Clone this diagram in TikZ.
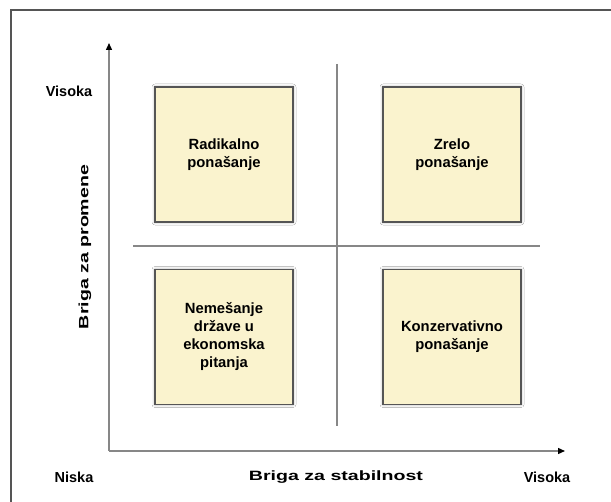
\documentclass[tikz,border=0pt]{standalone}
\usepackage{fontspec}
\setmainfont{Liberation Sans}
\newfontfamily\axisfont[FakeStretch=1.45]{Liberation Sans}
\usetikzlibrary{arrows.meta,shadows.blur}
\definecolor{boxfill}{RGB}{250,243,206}
\definecolor{boxedge}{RGB}{85,85,85}
\definecolor{guide}{RGB}{135,135,135}
\tikzset{
  frameline/.style={draw=boxedge, line width=2pt},
  axis/.style={draw=guide, line width=1.4pt, -{Triangle[length=7pt,width=6pt,fill=black,color=black]}},
  divider/.style={draw=guide, line width=1.4pt},
  quad/.style={draw=boxedge, fill=boxfill, line width=1.8pt, minimum width=138pt, minimum height=135pt,
    inner sep=0pt, align=center, font=\bfseries\fontsize{14.8}{18}\selectfont,
    blur shadow={shadow xshift=0pt, shadow yshift=0pt, shadow blur radius=3pt, shadow opacity=35}},
  level/.style={font=\bfseries\fontsize{14.5}{17}\selectfont, inner sep=0pt},
  axistitle/.style={font=\axisfont\bfseries\fontsize{13.5}{16}\selectfont, inner sep=0pt}
}
\begin{document}
\begin{tikzpicture}[x=1pt, y=-1pt]
  \useasboundingbox (0,0) rectangle (611,502);
  \fill[white] (0,0) rectangle (611,502);
  % outer frame: top and left edges only
  \coordinate (fbl) at (11,502);
  \coordinate (ftl) at (11,10);
  \coordinate (ftr) at (611,10);
  \draw[frameline] (fbl) -- (ftl) -- (ftr);

  % axes
  \coordinate (origin) at (109,451);
  \coordinate (ytip) at (109,43);
  \coordinate (xtip) at (565,451);
  \draw[axis] (origin) -- (ytip);
  \draw[axis] (origin) -- (xtip);

  % quadrant dividers
  \coordinate (vtop) at (337,64);
  \coordinate (vbot) at (337,426);
  \coordinate (hleft) at (133,246);
  \coordinate (hright) at (540,246);
  \draw[divider] (vtop) -- (vbot);
  \draw[divider] (hleft) -- (hright);

  % quadrant boxes
  \node[quad] (radical) at (224,154.5) {Radikalno\\ponašanje};
  \node[quad] (mature) at (452,154.5) {Zrelo\\ponašanje};
  \node[quad] (laissez) at (224,337) {Nemešanje\\države u\\ekonomska\\pitanja};
  \node[quad] (conserv) at (452,337) {Konzervativno\\ponašanje};

  % axis labels
  \node[level] (yhigh) at (69,91) {Visoka};
  \node[level] (xlow) at (74,477) {Niska};
  \node[level] (xhigh) at (547,477) {Visoka};
  \node[axistitle] (xtitle) at (336,477) {Briga za stabilnost};
  \node[axistitle, rotate=90] (ytitle) at (85,247) {Briga za promene};
\end{tikzpicture}
\end{document}
